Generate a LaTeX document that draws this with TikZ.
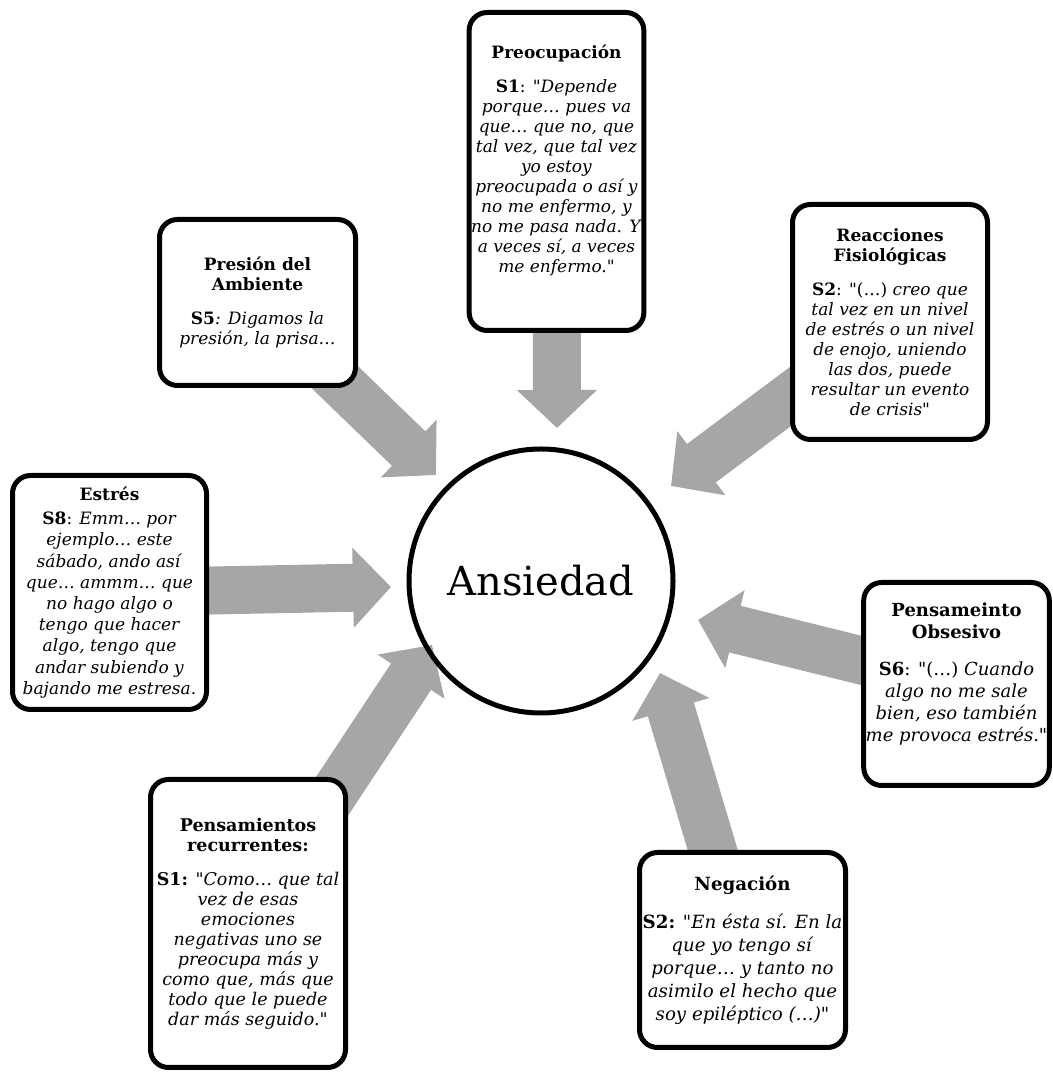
\documentclass[tikz,border=0pt]{standalone}
\usepackage{fontspec}
\setmainfont{DejaVu Serif}[Ligatures=TeXOff]
\usetikzlibrary{arrows.meta,backgrounds}
\definecolor{grisflecha}{RGB}{166,166,166}
\tikzset{
    caja/.style={draw, line width=5pt, rounded corners=18pt, fill=white, align=center, inner sep=2pt, font=\fontsize{17}{20}\selectfont},
    flecha/.style={draw=grisflecha, line width=48pt, -{Triangle[width=78pt,length=38pt]}},
  }

\begin{document}
\begin{tikzpicture}[x=1pt,y=1pt]
	\useasboundingbox (0,0) rectangle (1052,1076);
	
	%CIRCULO central
	\node[circle, draw, line width=5pt, minimum size=264pt, inner sep=0pt, font=\fontsize{40}{48}\selectfont] (ans) at (541,495) {Ansiedad};
	
	%CAJAS
	\node[caja, minimum width=158pt, minimum height=318pt] (preo) at (556.5,904.5) {\textbf{Preocupación}\\[14pt]
		\textbf{S1}: "\textit{Depende}\\ \textit{porque… pues va}\\ \textit{que… que no, que}\\ \textit{tal vez, que tal vez}\\ \textit{yo estoy}\\ \textit{preocupada o así y}\\ \textit{no me enfermo, y}\\ \textit{no me pasa nada. Y}\\ \textit{a veces sí, a veces}\\ \textit{me enfermo."}\\[6pt]};
	\node[caja, minimum width=195pt, minimum height=235pt] (reac) at (890,754) {\textbf{Reacciones}\\ \textbf{Fisiológicas}\\[14pt]
		\textbf{S2}: "(…) \textit{creo que}\\ \textit{tal vez en un nivel}\\ \textit{de estrés o un nivel}\\ \textit{de enojo, uniendo}\\ \textit{las dos, puede}\\ \textit{resultar un evento}\\ \textit{de crisis"}};
	\node[caja, minimum width=196pt, minimum height=166pt] (pres) at (257.5,773.5) {\textbf{Presión del}\\ \textbf{Ambiente}\\[14pt]
		\textbf{S5}\textit{: Digamos la}\\ \textit{presión, la prisa…}};
	\node[caja, minimum width=194pt, minimum height=234pt, font=\fontsize{17}{21.2}\selectfont] (estr) at (109.5,483.5) {\textbf{Estrés}\\[3pt]
		\textbf{S8}: \textit{Emm… por}\\ \textit{ejemplo… este}\\ \textit{sábado, ando así}\\ \textit{que… ammm… que}\\ \textit{no hago algo o}\\ \textit{tengo que hacer}\\ \textit{algo, tengo que}\\ \textit{andar subiendo y}\\ \textit{bajando me estresa.}};
	\node[caja, minimum width=178pt, minimum height=203pt, font=\fontsize{18}{22}\selectfont] (obse) at (956.5,392) {\textbf{Pensameinto}\\ \textbf{Obsesivo}\\[15pt]
		\textbf{S6}: "(…) \textit{Cuando}\\ \textit{algo no me sale}\\ \textit{bien, eso también}\\ \textit{me provoca estrés."}\\[2pt]};
	\node[caja, minimum width=195pt, minimum height=288pt, font=\fontsize{17.5}{20}\selectfont] (recu) at (248,152.5) {\textbf{Pensamientos}\\ \textbf{recurrentes:}\\[14pt]
		\textbf{S1:} \textit{"Como… que tal}\\ \textit{vez de esas}\\ \textit{emociones}\\ \textit{negativas uno se}\\ \textit{preocupa más y}\\ \textit{como que, más que}\\ \textit{todo que le puede}\\ \textit{dar más seguido."}};
	\node[caja, minimum width=206pt, minimum height=195pt, font=\fontsize{18.2}{23}\selectfont] (nega) at (742.5,126) {\textbf{Negación}\\[15pt]
		\textbf{S2:} "\textit{En ésta sí. En la}\\ \textit{que yo tengo sí}\\ \textit{porque… y tanto no}\\ \textit{asimilo el hecho que}\\ \textit{soy epiléptico (…)"}};
	
	%PUNTAS de las flechas
	\coordinate (tpreo) at (557,648);
	\coordinate (treac) at (671,590);
	\coordinate (tpres) at (436,601);
	\coordinate (testr) at (391,489);
	\coordinate (tobse) at (698,456);
	\coordinate (trecu) at (432,431);
	\coordinate (tnega) at (660,403);
	
	%FLECHAS detras de las cajas
	\begin{pgfonlayer}{background}
		\draw[flecha] (preo.center) -- (tpreo);
		\draw[flecha] (reac.center) -- (treac);
		\draw[flecha] (pres.center) -- (tpres);
		\draw[flecha] (estr.center) -- (testr);
		\draw[flecha] (obse.center) -- (tobse);
		\draw[flecha] (recu.center) -- (trecu);
		\draw[flecha] (nega.center) -- (tnega);
	\end{pgfonlayer}
	
\end{tikzpicture}
\end{document}
